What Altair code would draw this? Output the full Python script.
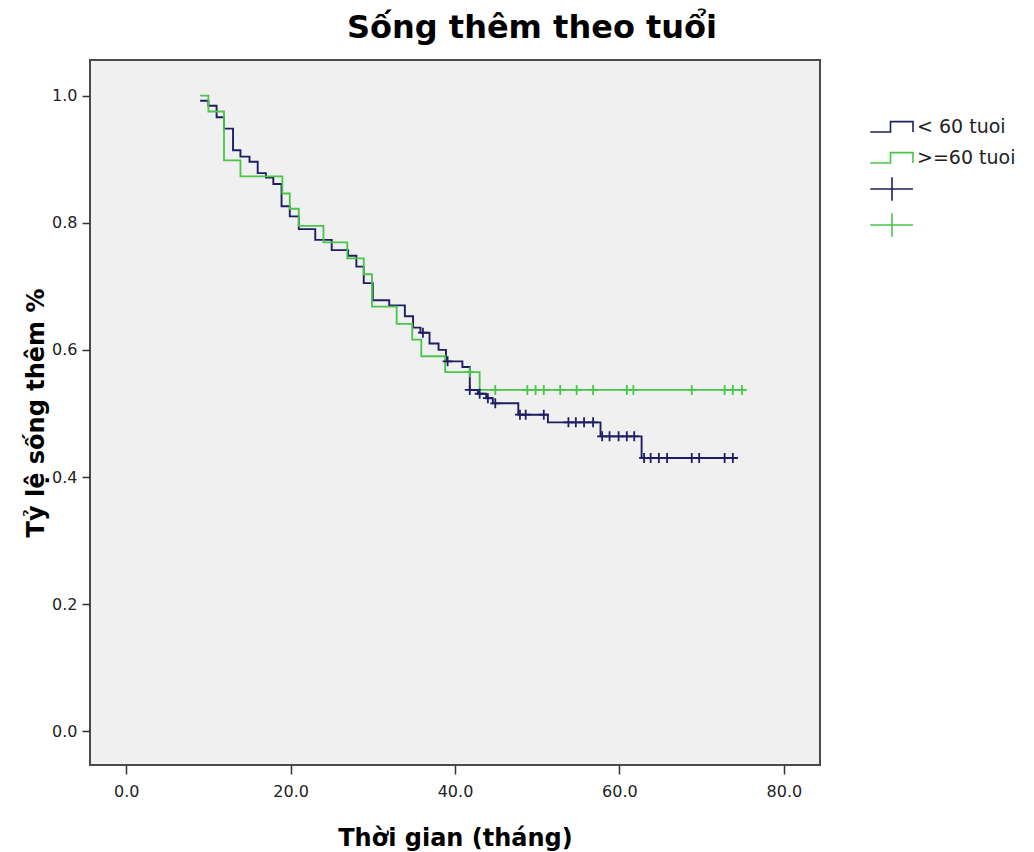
import altair as alt
import pandas as pd

NAVY = "#1e1e64"
GREEN = "#48c648"

# "< 60 tuoi" Kaplan-Meier step curve (time of change, survival after change)
young_t = [9.0, 10.0, 11.0, 11.9, 13.0, 13.9, 15.0, 16.0, 17.0, 17.9,
           18.9, 19.9, 21.0, 23.0, 25.0, 27.0, 28.0, 28.9, 30.0, 32.0,
           33.9, 34.9, 35.8, 36.9, 38.0, 38.9, 40.9, 41.8, 42.8, 43.8,
           44.6, 47.7, 51.3, 57.7, 62.7, 74.4]
young_s = [0.992, 0.984, 0.966, 0.948, 0.914, 0.904, 0.896, 0.878, 0.871, 0.861,
           0.826, 0.810, 0.790, 0.773, 0.757, 0.748, 0.731, 0.705, 0.678, 0.670,
           0.653, 0.635, 0.627, 0.610, 0.600, 0.582, 0.573, 0.537, 0.531, 0.524,
           0.516, 0.498, 0.486, 0.464, 0.430, 0.430]

# ">=60 tuoi" step curve
old_t = [9.0, 10.0, 11.9, 13.9, 19.0, 19.9, 21.0, 24.0, 26.9, 28.9,
         29.9, 32.9, 34.8, 35.9, 38.8, 43.0, 75.3]
old_s = [1.000, 0.975, 0.898, 0.873, 0.846, 0.822, 0.795, 0.769, 0.744, 0.719,
         0.668, 0.641, 0.616, 0.590, 0.565, 0.537, 0.537]

# censored observations
young_cens_t = [36.1, 39.1, 41.8, 43.0, 44.0, 44.9, 47.9, 48.6, 50.8, 53.8,
                54.7, 55.7, 56.8, 57.9, 58.8, 59.9, 60.9, 61.8, 63.0, 63.8,
                64.8, 65.8, 68.8, 69.7, 72.8, 73.8]
young_cens_s = [0.627, 0.582, 0.537, 0.531, 0.524, 0.516, 0.498, 0.498, 0.498, 0.486,
                0.486, 0.486, 0.486, 0.464, 0.464, 0.464, 0.464, 0.464, 0.430, 0.430,
                0.430, 0.430, 0.430, 0.430, 0.430, 0.430]
old_cens_t = [41.8, 44.9, 48.8, 49.8, 50.8, 52.8, 54.8, 56.8, 60.9, 61.7,
              68.8, 72.8, 73.8, 74.9]
old_cens_s = [0.565, 0.537, 0.537, 0.537, 0.537, 0.537, 0.537, 0.537, 0.537, 0.537,
              0.537, 0.537, 0.537, 0.537]

groups = ["< 60 tuoi", ">=60 tuoi"]
x_ticks = [0, 20, 40, 60, 80]
y_ticks = [0.0, 0.2, 0.4, 0.6, 0.8, 1.0]

LEG = [groups[0], groups[1], "cens_a", "cens_b", "plot_a", "plot_b"]

young_df = pd.DataFrame({"t": young_t, "s": young_s})
old_df = pd.DataFrame({"t": old_t, "s": old_s})
cens_df = pd.DataFrame({
    "t": young_cens_t + old_cens_t,
    "s": young_cens_s + old_cens_s,
    "key": ["plot_a"] * len(young_cens_t) + ["plot_b"] * len(old_cens_t),
})

STEP = "M-1.45,0.33H-0.1V-0.36H1.4V0.33"
LCROSS = "M-1.45,0H1.4M0,-0.78V0.78"
CROSS = "M-1,0H1M0,-1V1"

FONT = "DejaVu Sans"

x_enc = alt.X(
    "t:Q",
    scale=alt.Scale(domain=[-4.4, 84.4], nice=False, zero=False),
    axis=alt.Axis(values=x_ticks, format=".1f", title="Thời gian (tháng)",
                  domain=False, grid=False, tickSize=9, tickColor="#333333",
                  tickWidth=1.5, labelFont=FONT, labelFontSize=16,
                  labelColor="#222222", labelPadding=9, labelFlush=False,
                  titleFont=FONT, titleFontSize=24, titleFontWeight="bold",
                  titleColor="#000000", titleY=80, titleBaseline="alphabetic"),
)
y_enc = alt.Y(
    "s:Q",
    scale=alt.Scale(domain=[-0.053, 1.056], nice=False, zero=False),
    axis=alt.Axis(values=y_ticks, format=".1f", title="Tỷ lệ sống thêm %",
                  domain=False, grid=False, tickSize=8, tickColor="#333333",
                  tickWidth=1.5, labelFont=FONT, labelFontSize=16,
                  labelColor="#222222", labelPadding=5, labelFlush=False,
                  titleFont=FONT, titleFontSize=24, titleFontWeight="bold",
                  titleColor="#000000", titleX=-47, titleY=352.5,
                  titleAlign="center", titleBaseline="alphabetic"),
)

line_young = alt.Chart(young_df).mark_line(
    interpolate="step-after", strokeWidth=1.9, color=NAVY).encode(x=x_enc, y=y_enc)
line_old = alt.Chart(old_df).mark_line(
    interpolate="step-after", strokeWidth=1.8, color=GREEN).encode(x=x_enc, y=y_enc)

leg = alt.Legend(
    title=None, orient="none", legendX=786, legendY=51, padding=0,
    values=LEG[:4], symbolSize=900, symbolStrokeWidth=1.6, symbolOpacity=1,
    symbolFillColor="transparent", labelLimit=200,
    labelFont=FONT, labelFontSize=19, labelColor="#222222", labelOffset=9,
    rowPadding=5, labelExpr="substring(datum.label, 0, 4) == 'cens' ? '' : datum.label",
)

pts = alt.Chart(cens_df).mark_point(size=100, strokeWidth=1.8, opacity=1, filled=False).encode(
    x=x_enc, y=y_enc,
    color=alt.Color("key:N", scale=alt.Scale(domain=LEG, range=[NAVY, GREEN, NAVY, GREEN, NAVY, GREEN]), legend=leg),
    shape=alt.Shape("key:N", scale=alt.Scale(domain=LEG, range=[STEP, STEP, LCROSS, LCROSS, CROSS, CROSS]), legend=leg),
)

chart = alt.layer(line_young, line_old, pts).properties(
    width=730, height=705,
    autosize=alt.AutoSizeParams(type="none"),
    padding={"left": 82, "top": 52, "right": 204, "bottom": 92},
    title=alt.TitleParams("Sống thêm theo tuổi", font=FONT, fontSize=32, fontWeight="bold",
                          anchor="middle", frame="group", dx=77, offset=15, color="#000000"),
    background="#ffffff",
).configure_view(fill="#f0f0f0", stroke="#4a4a4a", strokeWidth=2)

chart.save("out.html", embed_options={"renderer": "svg", "actions": False})
